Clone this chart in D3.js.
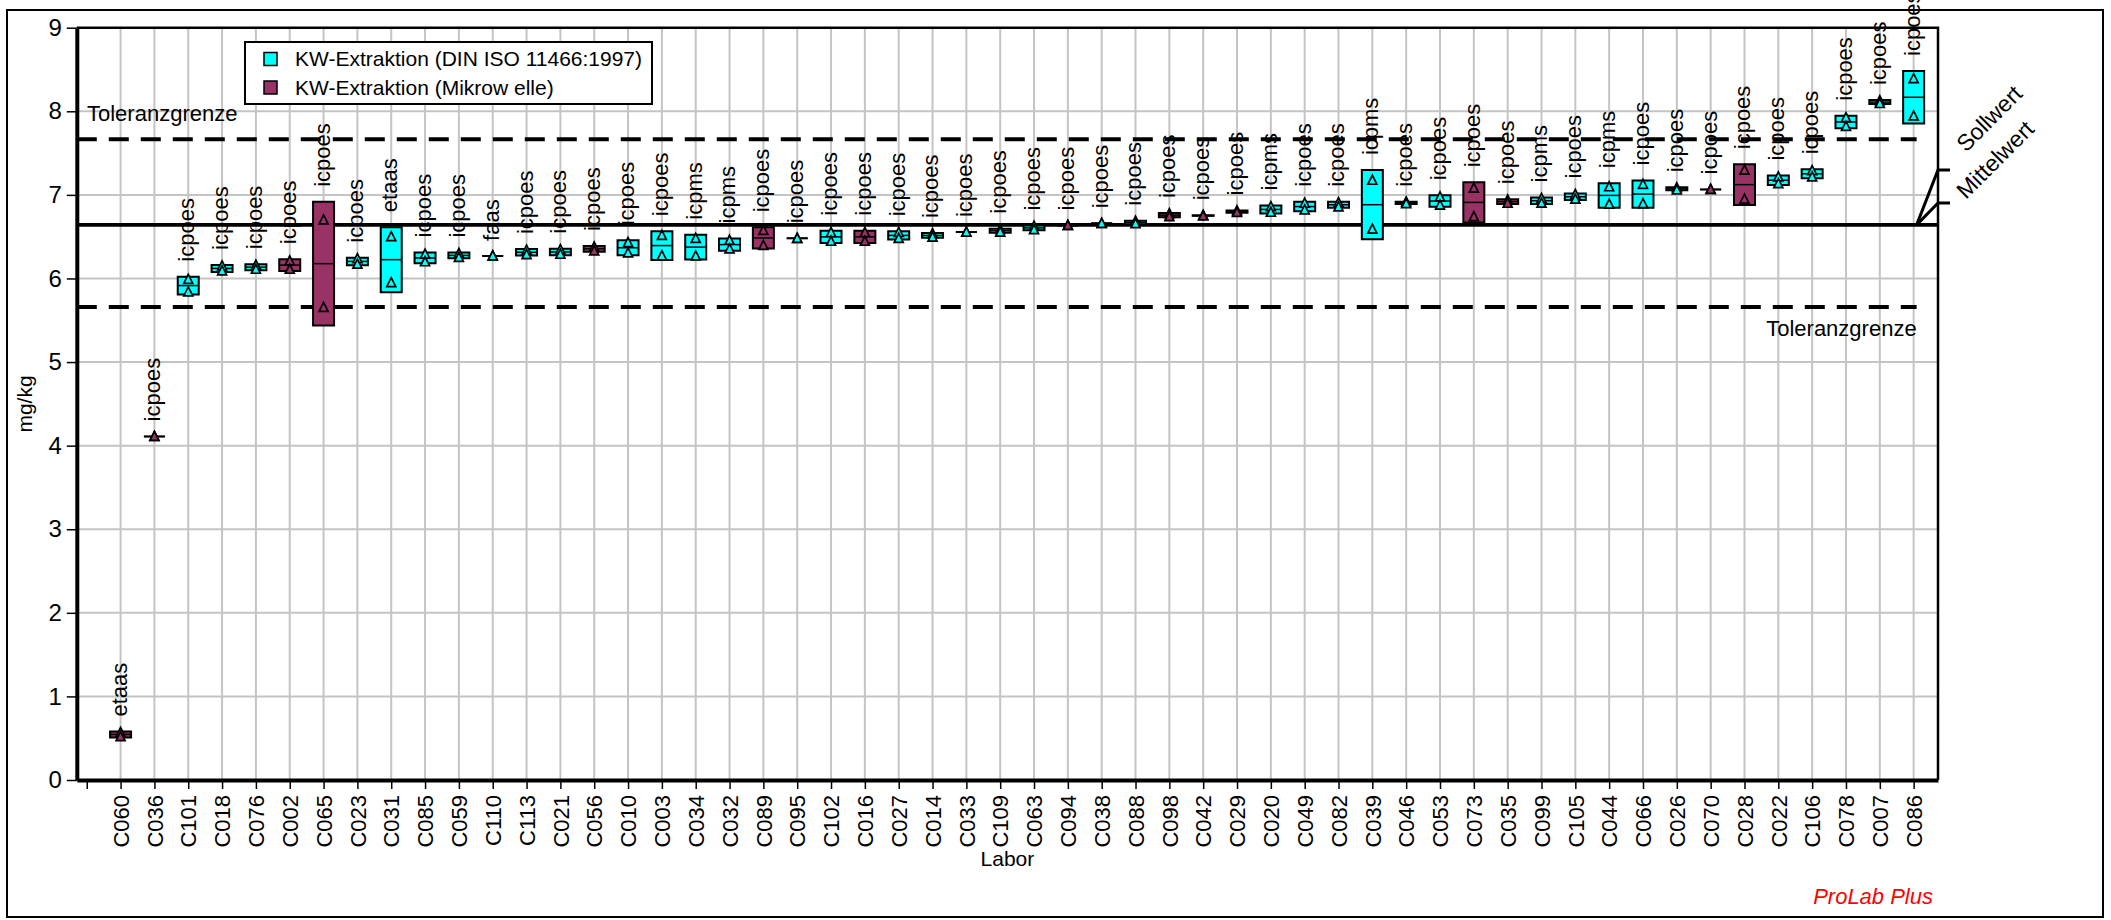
<!DOCTYPE html>
<html><head><meta charset="utf-8">
<script src="https://cdn.jsdelivr.net/npm/d3@7"></script>
<style>
body{margin:0;background:#fff;}
svg text{font-family:"Liberation Sans",Arial,sans-serif;}
</style>
</head><body>
<svg id="c" width="2111" height="920"></svg>
<script>
// ---------------- data ----------------
const labs = ["C060","C036","C101","C018","C076","C002","C065","C023","C031","C085","C059","C110","C113","C021","C056","C010","C003","C034","C032","C089","C095","C102","C016","C027","C014","C033","C109","C063","C094","C038","C088","C098","C042","C029","C020","C049","C082","C039","C046","C053","C073","C035","C099","C105","C044","C066","C026","C070","C028","C022","C106","C078","C007","C086"];
const methods = ["etaas","icpoes","icpoes","icpoes","icpoes","icpoes","icpoes","icpoes","etaas","icpoes","icpoes","faas","icpoes","icpoes","icpoes","icpoes","icpoes","icpms","icpms","icpoes","icpoes","icpoes","icpoes","icpoes","icpoes","icpoes","icpoes","icpoes","icpoes","icpoes","icpoes","icpoes","icpoes","icpoes","icpms","icpoes","icpoes","icpms","icpoes","icpoes","icpoes","icpoes","icpms","icpoes","icpms","icpoes","icpoes","icpoes","icpoes","icpoes","icpoes","icpoes","icpoes","icpoes"];
// 0 = KW-Extraktion (DIN ISO 11466:1997), 1 = KW-Extraktion (Mikrowelle)
const groups = [1,1,0,0,0,1,1,0,0,0,0,0,0,0,1,0,0,0,0,1,0,0,1,0,0,0,0,0,1,0,0,1,1,1,0,0,0,0,0,0,1,1,0,0,0,0,0,1,1,0,0,0,0,0];
// replicate measurements (mg/kg)
const rep1 = [0.57,4.11,5.99,6.15,6.16,6.21,6.70,6.236,6.50,6.292,6.300,6.27,6.34,6.345,6.379,6.43,6.515,6.48,6.457,6.575,6.48,6.55,6.55,6.55,6.535,6.555,6.588,6.625,6.635,6.66,6.685,6.775,6.755,6.81,6.86,6.90,6.907,7.175,6.915,6.975,7.08,6.94,6.958,7.005,7.097,7.125,7.085,7.065,7.295,7.215,7.29,7.925,8.127,8.39];
const rep2 = [0.52,4.11,5.84,6.09,6.11,6.11,5.654,6.172,5.95,6.200,6.252,6.27,6.286,6.29,6.331,6.305,6.272,6.27,6.353,6.395,6.48,6.445,6.445,6.48,6.495,6.555,6.554,6.585,6.635,6.66,6.655,6.74,6.75,6.79,6.792,6.82,6.857,6.59,6.895,6.877,6.74,6.90,6.902,6.95,6.89,6.895,7.06,7.065,6.95,7.135,7.215,7.82,8.093,7.945];
const seriesNames = ["KW-Extraktion (DIN ISO 11466:1997)", "KW-Extraktion (Mikrow elle)"];
const yTicks = [0,1,2,3,4,5,6,7,8,9];
const sollwert = 6.645, mittelwert = 6.638;
const tolUpper = 7.664, tolLower = 5.658;

// ---------------- layout ----------------
const svg = d3.select("#c");
const FONT = '"Liberation Sans", Arial, sans-serif';
const FS = 22;
const X0 = 76.8, X1 = 1938, Y0 = 780, Y1 = 27.7;
const x = d3.scaleLinear().domain([-1.294, 53.72]).range([X0, X1]);
const y = d3.scaleLinear().domain([0, 9]).range([Y0, Y1]);
const colors = ["#00FFFF", "#993366"];
const BW = 21;

// outer frame
svg.append("rect").attr("x",7).attr("y",10).attr("width",2096).attr("height",907)
  .attr("fill","#fff").attr("stroke","#000").attr("stroke-width",2);

// grid
const grid = svg.append("g").attr("stroke","#c4c4c4").attr("stroke-width",2);
yTicks.filter(v => v > 0 && v < 9).forEach(v =>
  grid.append("line").attr("x1",X0).attr("x2",X1).attr("y1",y(v)).attr("y2",y(v)));
labs.forEach((l,i) =>
  grid.append("line").attr("x1",x(i)).attr("x2",x(i)).attr("y1",Y1).attr("y2",Y0));

// plot border top/right
svg.append("path").attr("d",`M${X0},${Y1}H${X1}V${Y0}`).attr("fill","none").attr("stroke","#000").attr("stroke-width",2.5);

// reference lines
const xEnd = x(labs.length-1) + 3;
[tolUpper, tolLower].forEach(v =>
  svg.append("line").attr("x1",X0).attr("x2",xEnd).attr("y1",y(v)).attr("y2",y(v))
    .attr("stroke","#000").attr("stroke-width",4).attr("stroke-dasharray","20,12"));
[sollwert, mittelwert].forEach(v =>
  svg.append("line").attr("x1",X0).attr("x2",X1).attr("y1",y(v)).attr("y2",y(v))
    .attr("stroke","#000").attr("stroke-width",3));

// connectors to labels
const cy0 = y((sollwert+mittelwert)/2);
[[170,"Sollwert",153],[203,"Mittelwert",200]].forEach(([ly,txt,ty]) => {
  svg.append("path").attr("d",`M${xEnd},${cy0}L${X1},${ly}H${X1+12}`)
    .attr("fill","none").attr("stroke","#000").attr("stroke-width",3);
  svg.append("text").attr("transform",`translate(1966,${ty}) rotate(-45)`)
    .attr("font-size",23).text(txt);
});

// boxes
const stats = labs.map((l,i) => {
  const m = (rep1[i]+rep2[i])/2;
  const sd = Math.abs(rep1[i]-rep2[i])/Math.SQRT2;
  return {i, m, sd, lo: m-sd, hi: m+sd};
});
const boxes = svg.append("g");
stats.forEach(s => {
  const cx = x(s.i), yt = y(s.hi), yb = y(s.lo);
  boxes.append("path").attr("d",`M${cx-BW/2},${yt}H${cx+BW/2}V${yb}H${cx-BW/2}Z`)
    .attr("fill",colors[groups[s.i]]).attr("stroke","#000").attr("stroke-width",2);
  boxes.append("line").attr("x1",cx-BW/2).attr("x2",cx+BW/2).attr("y1",y(s.m)).attr("y2",y(s.m))
    .attr("stroke","#000").attr("stroke-width",1.5);
  [rep1[s.i], rep2[s.i]].forEach(v => {
    const ty = y(v);
    boxes.append("path").attr("d",`M${cx},${ty-5}L${cx+4.5},${ty+4}L${cx-4.5},${ty+4}Z`)
      .attr("fill",colors[groups[s.i]]).attr("stroke","#000").attr("stroke-width",1.7);
  });
  svg.append("text").attr("transform",`translate(${cx},${yt-1-14}) rotate(-90)`)
    .attr("dy","0.27em").attr("font-size",FS).text(methods[s.i]);
});

// axes
const gy = svg.append("g").attr("transform",`translate(${X0},0)`)
  .call(d3.axisLeft(y).tickValues(yTicks).tickSize(10).tickPadding(5).tickSizeOuter(0));
gy.attr("font-size",24).attr("font-family",FONT);
gy.select(".domain").attr("stroke-width",4);
gy.selectAll(".tick line").attr("stroke-width",1.5);
gy.selectAll(".tick text").attr("fill","#000");

const gx = svg.append("g").attr("transform",`translate(0,${Y0})`)
  .call(d3.axisBottom(x).tickValues(d3.range(-1, labs.length)).tickFormat(i => i >= 0 ? labs[i] : "").tickSize(9).tickSizeOuter(0));
gx.attr("font-size",FS).attr("font-family",FONT);
gx.select(".domain").attr("stroke-width",4);
gx.selectAll(".tick line").attr("stroke-width",1.5);
gx.selectAll(".tick text").attr("transform","rotate(-90)").attr("x",-15).attr("y",0)
  .attr("dy","0.35em").attr("text-anchor","end").attr("fill","#000");

// axis titles
svg.append("text").attr("transform","translate(32,404) rotate(-90)").attr("text-anchor","middle")
  .attr("font-size",21).text("mg/kg");
svg.append("text").attr("x",(X0+X1)/2).attr("y",866).attr("text-anchor","middle")
  .attr("font-size",21).text("Labor");

// tolerance labels
svg.append("text").attr("x",87).attr("y",121).attr("font-size",FS).text("Toleranzgrenze");
svg.append("text").attr("x",xEnd).attr("y",336).attr("text-anchor","end").attr("font-size",FS).text("Toleranzgrenze");

// legend
const lg = svg.append("g");
lg.append("rect").attr("x",245).attr("y",42).attr("width",407).attr("height",62)
  .attr("fill","#fff").attr("stroke","#000").attr("stroke-width",2);
seriesNames.forEach((n,k) => {
  const cyL = 59 + k*28.5;
  lg.append("rect").attr("x",264).attr("y",cyL-6.5).attr("width",13).attr("height",13)
    .attr("fill",colors[k]).attr("stroke","#000").attr("stroke-width",1.5);
  lg.append("text").attr("x",295).attr("y",cyL).attr("dy","0.35em").attr("font-size",21).text(n);
});

// footer
svg.append("text").attr("x",1933).attr("y",904).attr("text-anchor","end").attr("font-size",22)
  .attr("font-style","italic").attr("fill","#ff0000").text("ProLab Plus");
</script>
</body></html>
